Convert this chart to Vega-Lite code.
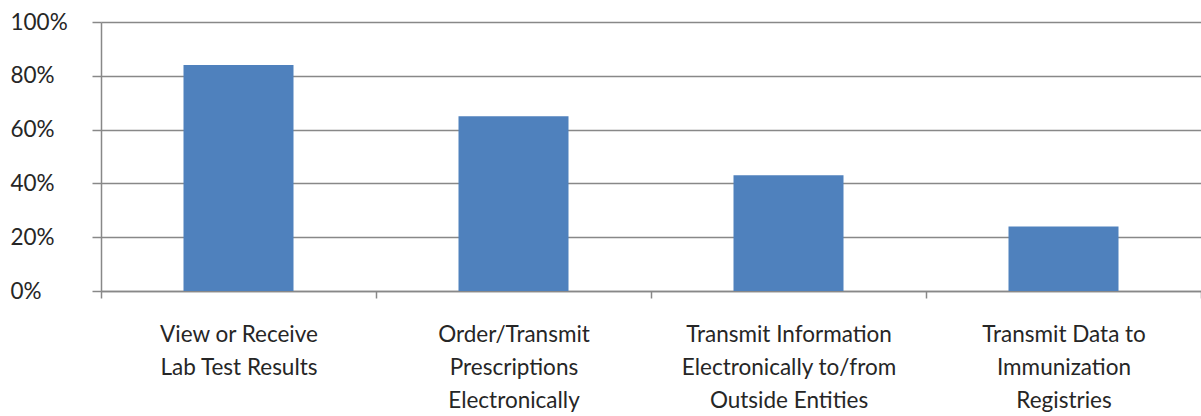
{
  "$schema": "https://vega.github.io/schema/vega-lite/v6.json",
  "autosize": "none",
  "width": 1100,
  "height": 269,
  "padding": {"left": 101, "top": 22, "right": 0, "bottom": 125},
  "background": "white",
  "data": {
    "values": [
      {"category": "View or Receive|Lab Test Results", "value": 0.84},
      {"category": "Order/Transmit|Prescriptions|Electronically", "value": 0.65},
      {"category": "Transmit Information|Electronically to/from|Outside Entities", "value": 0.43},
      {"category": "Transmit Data to|Immunization|Registries", "value": 0.24}
    ]
  },
  "config": {
    "view": {"stroke": null},
    "font": "Lato"
  },
  "mark": {"type": "bar", "color": "#4F81BD", "width": {"band": 0.4}},
  "encoding": {
    "x": {
      "field": "category",
      "type": "nominal",
      "sort": null,
      "scale": {"paddingInner": 0, "paddingOuter": 0},
      "axis": {
        "title": null,
        "labelAngle": 0,
        "labelExpr": "split(datum.label, '|')",
        "labelFont": "Lato",
        "labelFontSize": 22.5,
        "labelColor": "#262626",
        "labelLineHeight": 33,
        "labelPadding": 25,
        "labelLimit": 300,
        "tickBand": "extent",
        "tickSize": 7,
        "tickColor": "#888888",
        "tickWidth": 1.5,
        "domainColor": "#888888",
        "domainWidth": 1.5,
        "grid": false
      }
    },
    "y": {
      "field": "value",
      "type": "quantitative",
      "scale": {"domain": [0, 1], "nice": false},
      "axis": {
        "title": null,
        "format": ".0%",
        "values": [0, 0.2, 0.4, 0.6, 0.8, 1],
        "labelFont": "Lato",
        "labelFontSize": 22.5,
        "labelColor": "#262626",
        "labelAlign": "left",
        "labelPadding": 82,
        "tickSize": 9,
        "tickColor": "#888888",
        "tickWidth": 1.5,
        "domainColor": "#888888",
        "domainWidth": 1.5,
        "grid": true,
        "gridColor": "#888888",
        "gridWidth": 1.5
      }
    }
  }
}
